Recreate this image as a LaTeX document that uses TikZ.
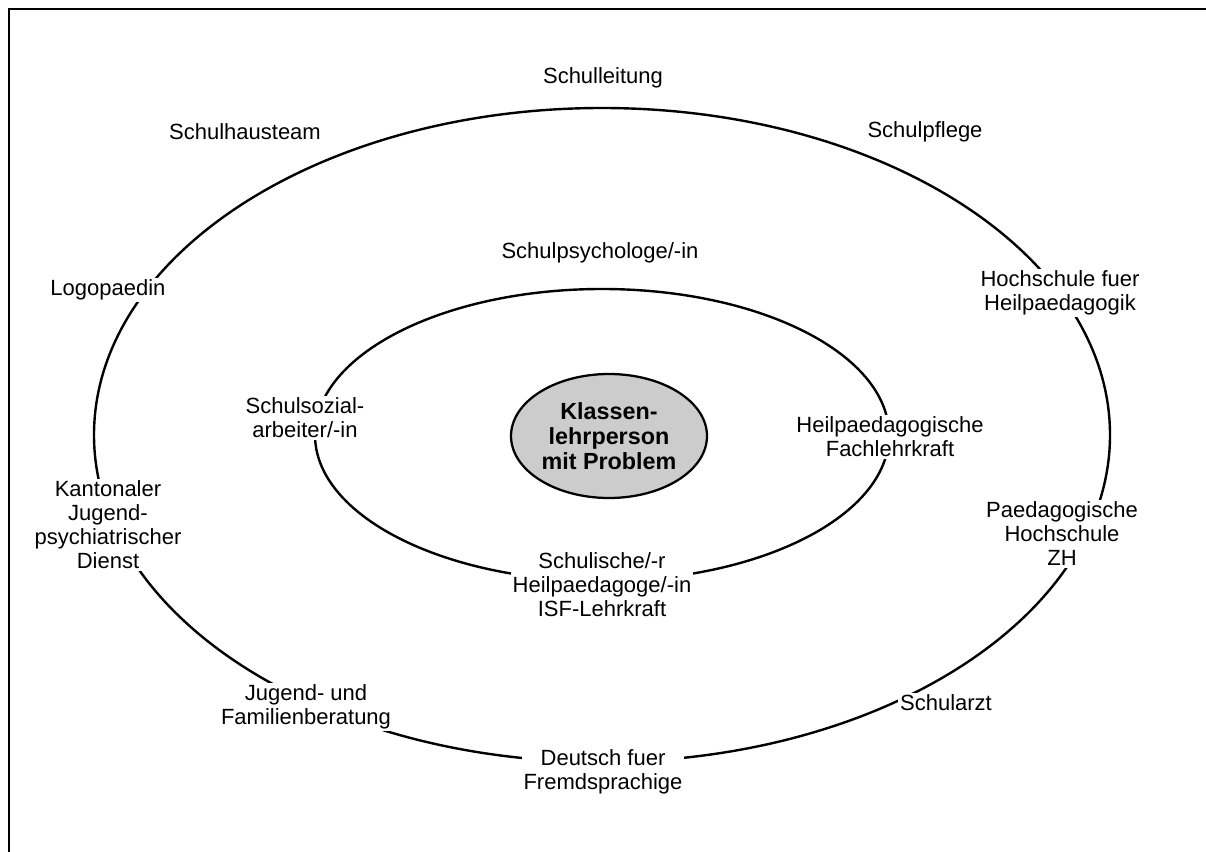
\documentclass[tikz,border=0pt]{standalone}
\usepackage{fontspec}
\setmainfont{Liberation Sans}
\usetikzlibrary{shapes.geometric}
\begin{document}
\begin{tikzpicture}[x=0.75pt,y=-0.75pt,
  ring/.style={line width=1.8pt,black},
  lbl/.style={fill=white,inner sep=1.5pt,align=center,font=\fontsize{16.5}{18}\selectfont},
  core/.style={ellipse,draw=black,line width=1.7pt,fill=black!20,inner sep=0pt,
     minimum width=147pt,minimum height=93pt,align=center,
     font=\fontsize{17.5}{19}\selectfont\bfseries}]
\useasboundingbox (0,0) rectangle (1206,852);
% frame (top and left edges visible)
\coordinate (fa) at (9,852);
\coordinate (fb) at (9,9);
\coordinate (fc) at (1206,9);
\draw[line width=2.1pt] (fa) -- (fb) -- (fc);
% rings
\coordinate (ctr) at (602,435);
\draw[ring] (ctr) ellipse [x radius=508, y radius=327];
\draw[ring] (ctr) ellipse [x radius=287, y radius=146];
% center
\node[core] (klp) at (609,436) {Klassen-\\lehrperson\\mit Problem};
% outer labels
\node[lbl] (sl) at (603,78) {Schulleitung};
\node[lbl] (sht) at (245,132) {Schulhausteam};
\node[lbl] (spf) at (925,132) {Schulpflege};
\node[lbl] (logo) at (108,290) {Logopaedin};
\node[lbl] (hfh) at (1060,293) {Hochschule fuer\\Heilpaedagogik};
\node[lbl] (kjd) at (108,525) {Kantonaler\\Jugend-\\psychiatrischer\\Dienst};
\node[lbl] (phzh) at (1062,534) {Paedagogische\\Hochschule\\ZH};
\node[lbl] (jfb) at (306,707) {Jugend- und\\Familienberatung};
\node[lbl] (sa) at (946,703) {Schularzt};
\node[lbl] (dff) at (603,772) {Deutsch fuer\\Fremdsprachige};
% inner labels
\node[lbl] (spsy) at (600,253) {Schulpsychologe/-in};
\node[lbl] (ssa) at (305,418) {Schulsozial-\\arbeiter/-in};
\node[lbl] (hfl) at (890,437) {Heilpaedagogische\\Fachlehrkraft};
\node[lbl] (shp) at (602,585) {Schulische/-r\\Heilpaedagoge/-in\\ISF-Lehrkraft};
\end{tikzpicture}
\end{document}
